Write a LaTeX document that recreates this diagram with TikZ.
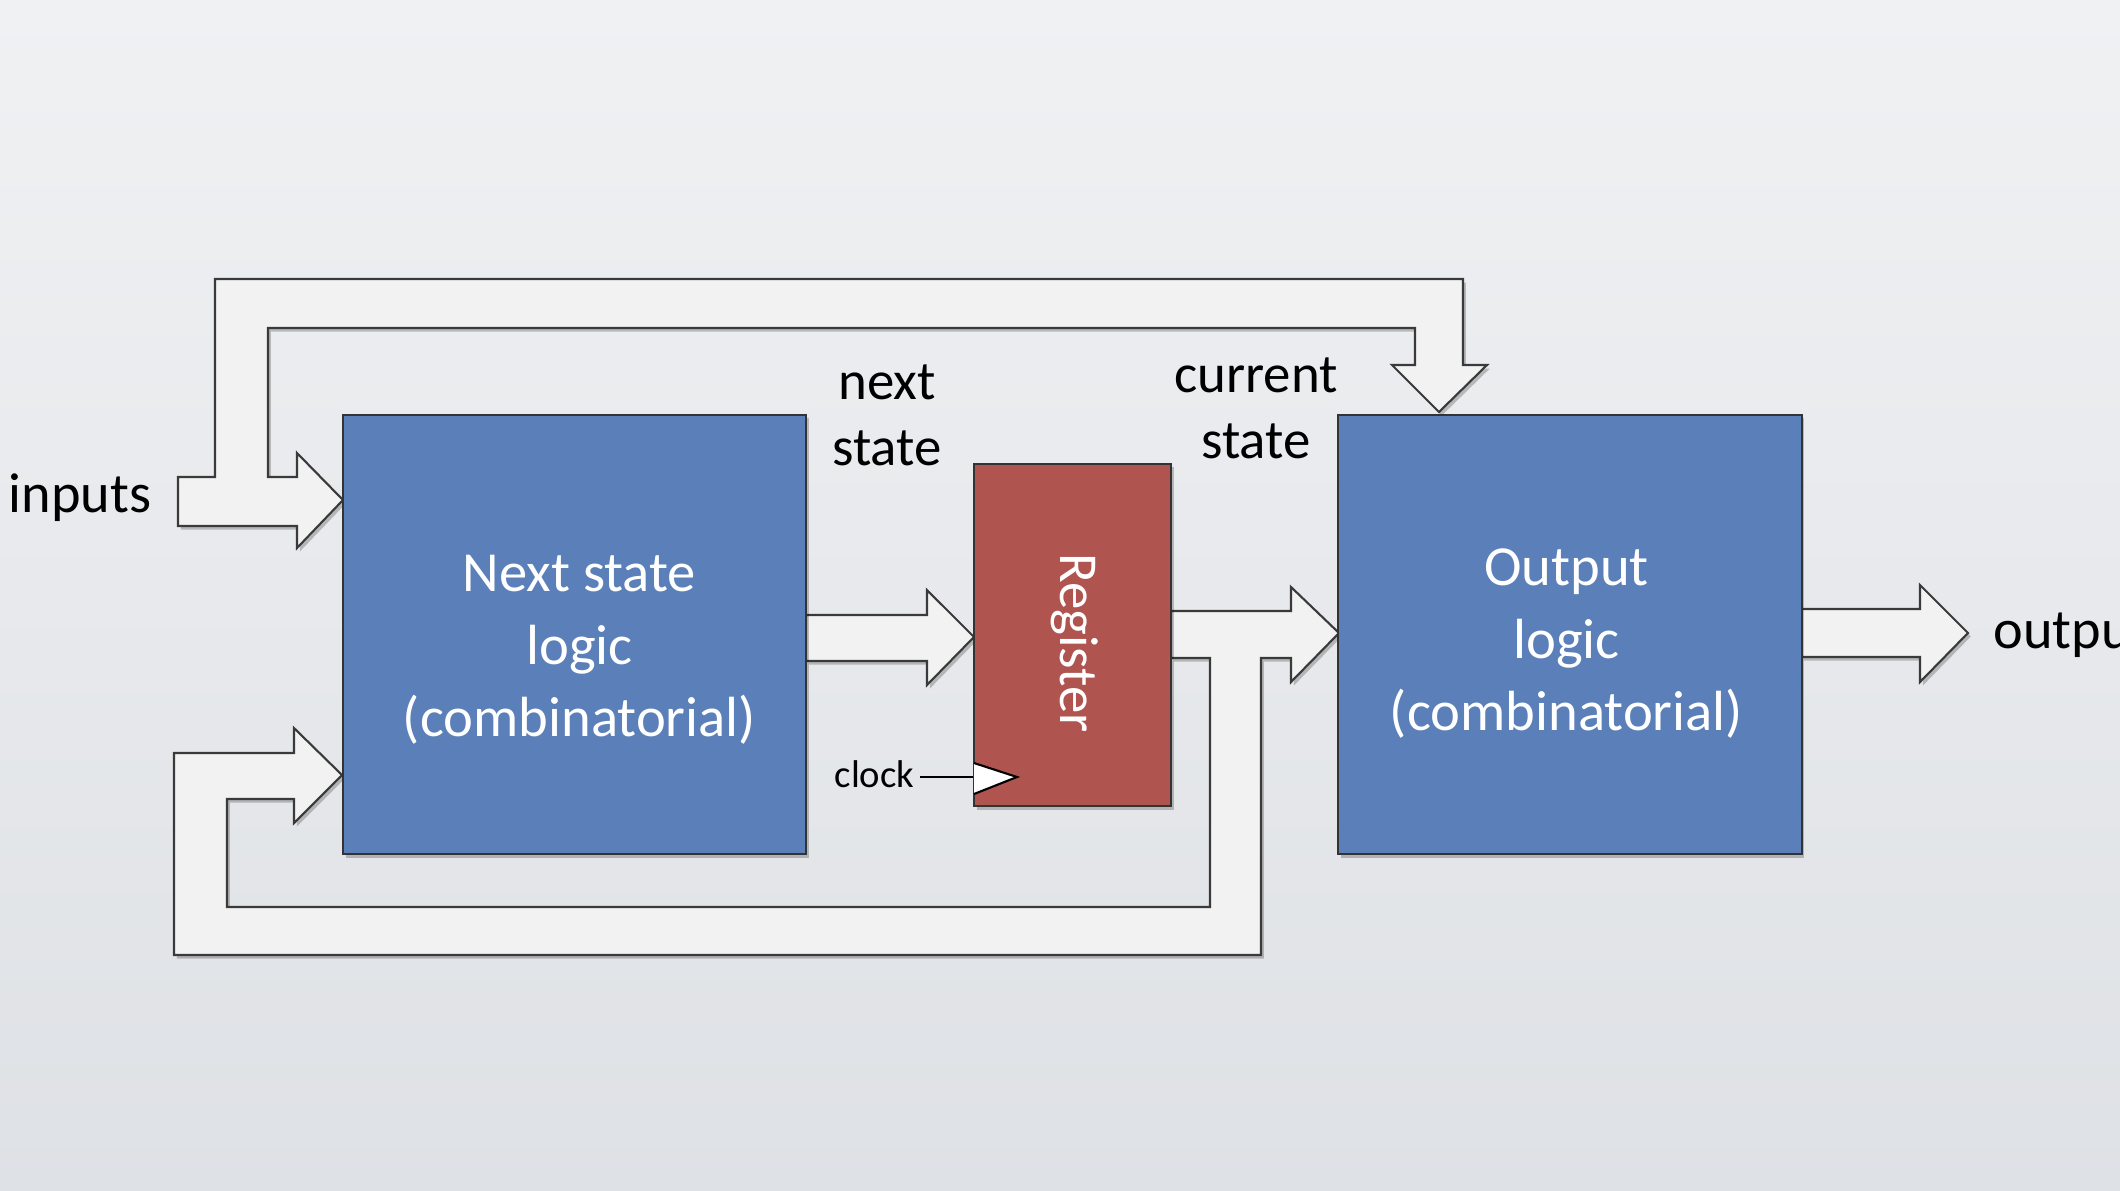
\documentclass[tikz,border=0pt]{standalone}
\usepackage{fontspec}
\setmainfont{Carlito}
\usetikzlibrary{shadows}

\definecolor{bgtop}{HTML}{F0F1F3}
\definecolor{bgbot}{HTML}{DEE1E5}
\definecolor{logicblue}{HTML}{5B80B9}
\definecolor{regred}{HTML}{B0544F}
\definecolor{busfill}{HTML}{F2F2F2}
\definecolor{busline}{HTML}{3A3A3A}

\pgfdeclarelayer{back}
\pgfsetlayers{back,main}

\tikzset{
  softshadow/.style={drop shadow={shadow xshift=0.8pt, shadow yshift=-1.0pt, opacity=0.22, fill=black}},
  bus/.style={fill=busfill, draw=busline, line width=0.6pt, line join=miter, softshadow},
  logicbox/.style={draw=black!80, line width=0.6pt, fill=logicblue, inner sep=0pt,
    minimum width=4.63cm, minimum height=4.39cm, softshadow},
  regbox/.style={draw=black!80, line width=0.6pt, fill=regred, inner sep=0pt,
    minimum width=1.97cm, minimum height=3.42cm, softshadow},
  boxtext/.style={text=white, align=center, font=\fontsize{16.1}{20.6}\selectfont},
  sigtext/.style={text=black, align=center, font=\fontsize{15.6}{18.8}\selectfont},
}

\begin{document}
\begin{tikzpicture}[x=0.01cm, y=-0.01cm]
\useasboundingbox (0,0) rectangle (2120,1190);

% blocks
\node[logicbox, label={[boxtext, xshift=1.4pt, yshift=-4.4pt]center:Next state\\logic\\(combinatorial)}] (nsl) at (574.5,634.5) {};
\node[regbox] (reg) at (1072.5,635) {};
\node[text=white, rotate=-90, font=\fontsize{15.6}{18}\selectfont] (regname) at (1075,643) {Register};
\node[logicbox, label={[boxtext, xshift=-1.0pt, yshift=-2.6pt]center:Output\\logic\\(combinatorial)}] (ol) at (1570,634.5) {};

% clock input
\coordinate (clkTip) at (1017,777);
\node[anchor=base west, font=\fontsize{11}{13}\selectfont, inner sep=0pt] (clk) at (834,787) {clock};
\draw[line width=0.8pt] (920,777) -- (reg.west |- clkTip);
\draw[fill=white, draw=black, line width=0.6pt, line join=miter] (974,763) -- (clkTip) -- (974,794);

% signal names
\node[anchor=base west, font=\fontsize{16}{19}\selectfont, inner sep=0pt] (inputs) at (8,512) {inputs};
\node[anchor=base west, font=\fontsize{16}{19}\selectfont, inner sep=0pt] (outputs) at (1993,648) {outputs};
\node[sigtext] (nextlbl) at (887,415) {next\\state};
\node[sigtext] (curlbl) at (1256,408) {current\\state};

\begin{pgfonlayer}{back}
  \shade[top color=bgtop, bottom color=bgbot] (0,0) rectangle (2120,1190);

  % inputs: into the next state logic and up over to the output logic
  \draw[bus] (178,526) -- (297,526) -- (297,548) -- (343,500) -- (297,453) -- (297,477)
    -- (268,477) -- (268,328) -- (1415,328) -- (1415,365) -- (1392,365) -- (1439,412)
    -- (1487,365) -- (1463,365) -- (1463,279) -- (215,279) -- (215,477) -- (178,477) -- cycle;

  % current state: into the output logic and fed back to the next state logic
  \draw[bus] (1171,611) -- (1291,611) -- (1291,587) -- (1339,633) -- (1291,682) -- (1291,658)
    -- (1261,658) -- (1261,955) -- (174,955) -- (174,753) -- (294,753) -- (294,728)
    -- (342,775) -- (294,823) -- (294,799) -- (227,799) -- (227,907) -- (1210,907)
    -- (1210,658) -- (1171,658) -- cycle;

  % next state into the register
  \draw[bus] (806,615) -- (927,615) -- (927,590) -- (974,637) -- (927,685) -- (927,661)
    -- (806,661) -- cycle;

  % outputs
  \draw[bus] (1801,609) -- (1920,609) -- (1920,585) -- (1968,633) -- (1920,682) -- (1920,657)
    -- (1801,657) -- cycle;
\end{pgfonlayer}
\end{tikzpicture}
\end{document}
